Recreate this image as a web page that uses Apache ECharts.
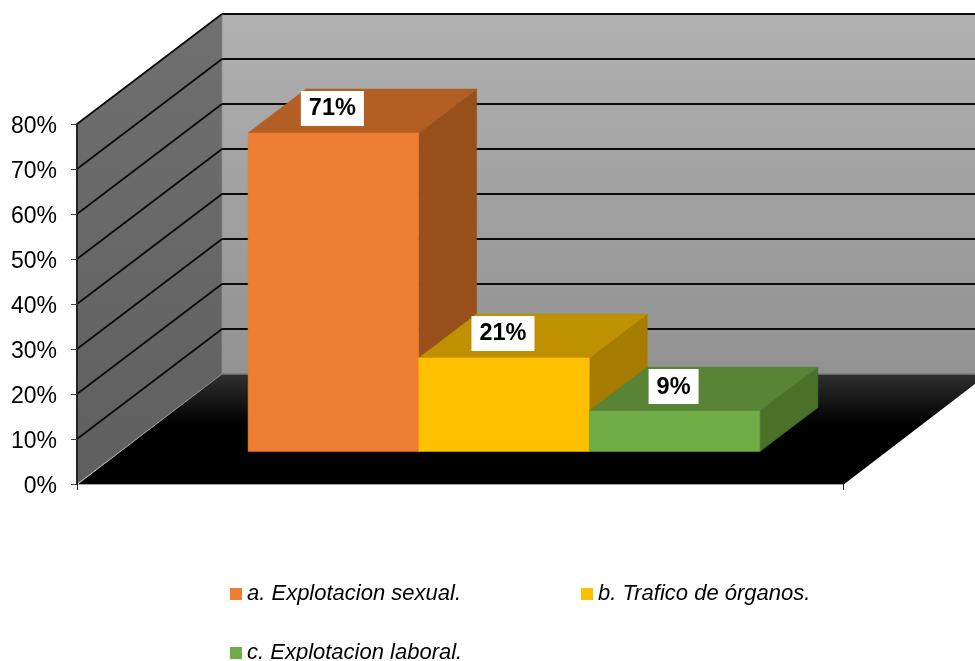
<!DOCTYPE html>
<html>
<head>
<meta charset="utf-8">
<title>Chart</title>
<style>
	html, body { margin: 0; padding: 0; background: #fff; }
	#chart { width: 975px; height: 661px; }
</style>
<script src="https://cdn.jsdelivr.net/npm/echarts@6/dist/echarts.min.js"></script>
</head>
<body>
<div id="chart"></div>
<script>
	const categories = [""];
	const yTicks = [0, 10, 20, 30, 40, 50, 60, 70, 80];
	const seriesNames = ["a. Explotacion sexual.", "b. Trafico de órganos.", "c. Explotacion laboral."];
	const sexualValues = [70.8];
	const organosValues = [20.8];
	const laboralValues = [9.0];

	const frontColors = ["#ED7D31", "#FFC000", "#70AD47"];
	const topColors = ["#B35E24", "#BF9000", "#598335"];
	const sideColors = ["#974F1C", "#A67C00", "#4B7029"];

	// oblique projection of the fake 3D box
	const depthX = 145;
	const depthY = 110;
	const barDepthStart = 0.295;
	const barDepthEnd = 0.695;
	const barShiftX = 1.2;
	const gapWidth = 1.49;

	const chart = echarts.init(document.getElementById("chart"));

	const project = (pt, z) => [pt[0] + z * depthX, pt[1] - z * depthY];
	const poly = (points, fill, stroke, lineWidth) => ({
		type: "polygon",
		shape: { points },
		style: { fill, stroke: stroke || fill, lineWidth: lineWidth === undefined ? 0.5 : lineWidth }
	});
	const vGrad = (c0, c1, stop) => new echarts.graphic.LinearGradient(0, 0, 0, 1, [
		{ offset: 0, color: c0 },
		{ offset: stop, color: c1 },
		{ offset: 1, color: c1 }
	]);

	const renderWalls = (params, api) => {
		const size = api.size([1, 0])[0];
		const bottom = api.coord([0, yTicks[0]]);
		const top = api.coord([0, yTicks[yTicks.length - 1]]);
		const left = bottom[0] - size / 2;
		const right = bottom[0] + size / 2;
		const a = [left, bottom[1]];
		const b = [right, bottom[1]];
		const t = [left, top[1]];
		const tr = [right, top[1]];
		return {
			type: "group",
			children: [
				// back wall
				poly([project(t, 1), project(tr, 1), project(b, 1), project(a, 1)], vGrad("#B1B1B1", "#929292", 1), "none", 0),
				// floor
				poly([project(a, 1), project(b, 1), [b[0], b[1] + 1], [a[0], a[1] + 1]], vGrad("#303030", "#000000", 0.45), "none", 0),
				// left wall
				poly([t, project(t, 1), project(a, 1), a], vGrad("#707070", "#5F5F5F", 1), "#8A8A8A", 0.8),
				{
					type: "line",
					shape: { x1: project(a, 1)[0], y1: project(a, 1)[1], x2: project(b, 1)[0], y2: project(b, 1)[1] },
					style: { stroke: "#7A7A7A", lineWidth: 1.5 }
				}
			]
		};
	};

	const renderGridline = (params, api) => {
		const size = api.size([1, 0])[0];
		const p = api.coord([0, api.value(1)]);
		const front = [p[0] - size / 2, p[1]];
		const back = project(front, 1);
		const end = project([p[0] + size / 2, p[1]], 1);
		return {
			type: "group",
			children: [
				{
					type: "line",
					shape: { x1: front[0], y1: front[1], x2: back[0], y2: back[1] },
					style: { stroke: "#0A0A0A", lineWidth: 1.7 }
				},
				{
					type: "line",
					shape: { x1: back[0], y1: back[1], x2: end[0], y2: end[1] },
					style: { stroke: "#0A0A0A", lineWidth: 2 }
				}
			]
		};
	};

	const renderBar = index => (params, api) => {
		const size = api.size([1, 0])[0];
		const barWidth = size / (seriesNames.length + gapWidth);
		const center = api.coord([api.value(0), 0])[0] + barShiftX;
		const x0 = center - barWidth * seriesNames.length / 2 + barWidth * index;
		const x1 = x0 + barWidth;
		const baseY = api.coord([0, 0])[1];
		const topY = api.coord([0, api.value(1)])[1];

		const fbl = project([x0, baseY], barDepthStart);
		const fbr = project([x1, baseY], barDepthStart);
		const ftl = project([x0, topY], barDepthStart);
		const ftr = project([x1, topY], barDepthStart);
		const bbr = project([x1, baseY], barDepthEnd);
		const btl = project([x0, topY], barDepthEnd);
		const btr = project([x1, topY], barDepthEnd);

		return {
			type: "group",
			children: [
				poly([ftr, btr, bbr, fbr], sideColors[index]),
				poly([ftl, btl, btr, ftr], topColors[index]),
				poly([ftl, ftr, fbr, fbl], frontColors[index]),
				{
					type: "text",
					z2: 10,
					style: {
						x: (ftl[0] + ftr[0]) / 2 - 1,
						y: ftl[1] - 42,
						text: Math.round(api.value(1)) + "%",
						align: "center",
						verticalAlign: "top",
						font: "bold 23.5px 'Liberation Sans', Arial, sans-serif",
						fill: "#000",
						backgroundColor: "#fff",
						padding: [6, 8, 5, 8]
					}
				}
			]
		};
	};

	const barSeries = (index, values) => ({
		name: seriesNames[index],
		type: "custom",
		renderItem: renderBar(index),
		itemStyle: { color: frontColors[index] },
		encode: { x: 0, y: 1 },
		data: values.map((v, i) => [i, v]),
		z: 3
	});

	const legendAt = (index, left, top) => ({
		data: [seriesNames[index]],
		left,
		top,
		padding: 0,
		icon: "rect",
		itemWidth: 12,
		itemHeight: 12,
		selectedMode: false,
		textStyle: {
			fontFamily: "'Liberation Sans', Arial, sans-serif",
			fontStyle: "italic",
			fontSize: 22,
			color: "#000"
		}
	});

	const option = {
		animation: false,
		backgroundColor: "#fff",
		grid: { left: 77, top: 124, width: 766, height: 360 },
		legend: [
			legendAt(0, 230, 583),
			legendAt(1, 581, 583),
			legendAt(2, 230, 642)
		],
		xAxis: {
			type: "category",
			data: categories,
			offset: 1,
			z: 5,
			axisLine: { lineStyle: { color: "#A6A6A6", width: 1 } },
			axisTick: { show: true, length: 6, lineStyle: { color: "#222" } },
			axisLabel: { show: false }
		},
		yAxis: {
			type: "value",
			min: yTicks[0],
			max: yTicks[yTicks.length - 1],
			interval: 10,
			z: 5,
			axisLine: { show: true, lineStyle: { color: "#222", width: 2 } },
			axisTick: { show: true, length: 6, lineStyle: { color: "#444" } },
			splitLine: { show: false },
			axisLabel: {
				formatter: value => `{a|${value}%}`,
				margin: 20,
				rich: {
					a: {
						padding: [5, 0, 0, 0],
						fontFamily: "'Liberation Sans', Arial, sans-serif",
						fontSize: 23,
						color: "#000"
					}
				}
			}
		},
		series: [
			{
				name: "walls",
				type: "custom",
				renderItem: renderWalls,
				encode: { x: 0, y: 1 },
				data: [[0, 0]],
				z: 1,
				silent: true
			},
			{
				name: "gridlines",
				type: "custom",
				renderItem: renderGridline,
				encode: { x: 0, y: 1 },
				data: yTicks.slice(1).map(v => [0, v]),
				z: 2,
				silent: true
			},
			barSeries(0, sexualValues),
			barSeries(1, organosValues),
			barSeries(2, laboralValues)
		]
	};

	chart.setOption(option);
</script>
</body>
</html>
